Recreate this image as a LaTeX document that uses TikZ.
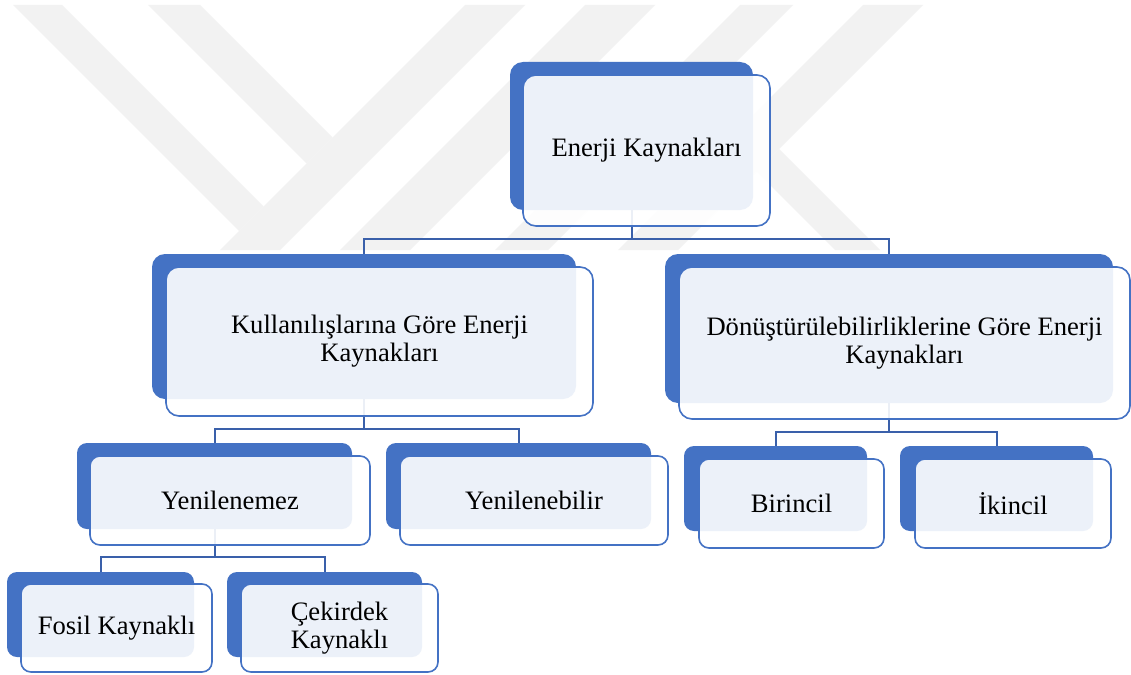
\documentclass[tikz,border=0pt]{standalone}
\usepackage{fontspec}
\setmainfont{Liberation Serif}
\definecolor{acc}{RGB}{68,114,196}
\definecolor{connc}{RGB}{58,96,170}
\definecolor{wm}{RGB}{242,242,242}
\begin{document}
\begin{tikzpicture}[x=1pt,y=-1pt,
  backbox/.style={fill=acc, draw=none, inner sep=0pt, rounded corners=#1},
  backbox/.default=13pt,
  frontbox/.style={fill=white, fill opacity=0.9, text opacity=1, draw=acc, line width=1.6pt,
    inner sep=2pt, rounded corners=#1, align=center, text=black,
    font=\fontsize{26.6}{28}\selectfont},
  frontbox/.default=13pt,
  conn/.style={draw=connc, line width=2pt},
  wmark/.style={fill=wm, draw=none}]
\useasboundingbox (0,0) rectangle (1131,674);
\fill[white] (0,0) rectangle (1131,674);
% watermark
\begin{scope}
\clip (0,5) rectangle (1131,250);
\path[wmark] (13,5) -- (62,5) -- (263.5,206.5) -- (239,231) -- cycle;
\path[wmark] (148,5) -- (200,5) -- (332.5,137.5) -- (306.5,163.5) -- cycle;
\path[wmark] (465,5) -- (525,5) -- (280,250) -- (220,250) -- cycle;
\path[wmark] (585,5) -- (655,5) -- (410,250) -- (340,250) -- cycle;
\path[wmark] (740,5) -- (793,5) -- (548,250) -- (495,250) -- cycle;
\path[wmark] (863,5) -- (923,5) -- (678,250) -- (618,250) -- cycle;
\path[wmark] (756.5,171.5) -- (779,149) -- (880,250) -- (835,250) -- cycle;
\end{scope}
% back boxes
\node[backbox, minimum width=243pt, minimum height=148pt] (rootB) at (631.5,136) {};
\node[backbox, minimum width=424pt, minimum height=145pt] (kulB) at (364,326.5) {};
\node[backbox, minimum width=448pt, minimum height=149pt] (donB) at (889,328.5) {};
\node[backbox=10pt, minimum width=275pt, minimum height=86pt] (yenzB) at (214.5,486) {};
\node[backbox=10pt, minimum width=265pt, minimum height=86pt] (yenbB) at (518.5,486) {};
\node[backbox=10pt, minimum width=183pt, minimum height=85pt] (birB) at (775.5,488.5) {};
\node[backbox=10pt, minimum width=193pt, minimum height=85pt] (ikiB) at (996.5,488.5) {};
\node[backbox=10pt, minimum width=187pt, minimum height=85pt] (fosB) at (100.5,614.5) {};
\node[backbox=10pt, minimum width=195pt, minimum height=85pt] (cekB) at (324.5,614.5) {};
% connectors
\draw[conn] (rootB.south) -- (rootB.south |- 0,239) -| (kulB.north);
\draw[conn] (rootB.south |- 0,239) -| (donB.north);
\draw[conn] (kulB.south) -- (kulB.south |- 0,429) -| (yenzB.north);
\draw[conn] (kulB.south |- 0,429) -| (yenbB.north);
\draw[conn] (donB.south) -- (donB.south |- 0,432) -| (birB.north);
\draw[conn] (donB.south |- 0,432) -| (ikiB.north);
\draw[conn] (yenzB.south) -- (yenzB.south |- 0,557) -| (fosB.north);
\draw[conn] (yenzB.south |- 0,557) -| (cekB.north);
% front boxes
\node[frontbox, minimum width=247pt, minimum height=151pt] (root) at (646.5,150.5) {Enerji Kaynakları};
\node[frontbox, minimum width=427pt, minimum height=149pt] (kul) at (379.5,341.5) {Kullanılışlarına Göre Enerji\\Kaynakları};
\node[frontbox, minimum width=451pt, minimum height=152pt] (don) at (904.5,343) {Dönüştürülebilirliklerine Göre Enerji\\Kaynakları};
\node[frontbox=10pt, minimum width=280pt, minimum height=89pt] (yenz) at (230,500.5) {Yenilenemez};
\node[frontbox=10pt, minimum width=268pt, minimum height=89pt] (yenb) at (534,500.5) {Yenilenebilir};
\node[frontbox=10pt, minimum width=185pt, minimum height=89pt] (bir) at (791.5,503.5) {Birincil};
\node[frontbox=10pt, minimum width=196pt, minimum height=89pt] (iki) at (1013,503.5) {İkincil};
\node[frontbox=10pt, minimum width=191pt, minimum height=88pt] (fos) at (116.5,628) {Fosil Kaynaklı};
\node[frontbox=10pt, minimum width=197pt, minimum height=88pt] (cek) at (339.5,628) {Çekirdek\\Kaynaklı};
\end{tikzpicture}
\end{document}
